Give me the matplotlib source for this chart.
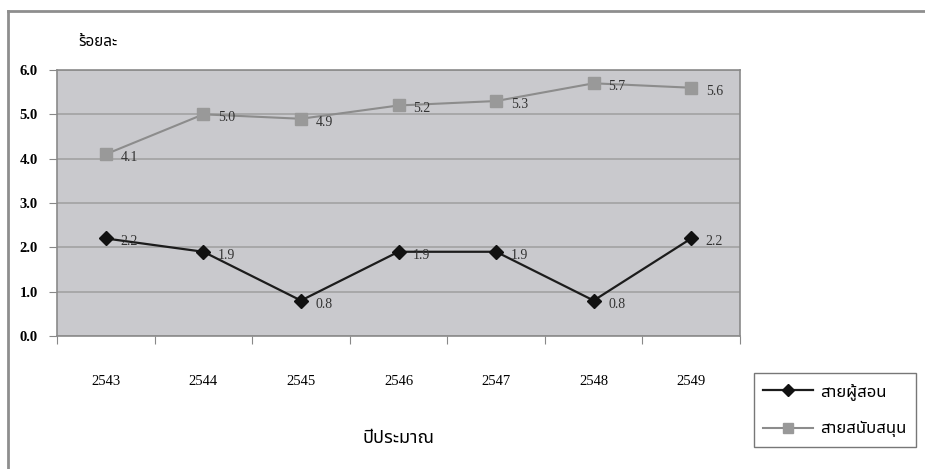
import matplotlib
matplotlib.use('Agg')
import matplotlib.pyplot as plt
from matplotlib.lines import Line2D

years = ['2543', '2544', '2545', '2546', '2547', '2548', '2549']
teaching = [2.2, 1.9, 0.8, 1.9, 1.9, 0.8, 2.2]
support = [4.1, 5.0, 4.9, 5.2, 5.3, 5.7, 5.6]
yticks = [0.0, 1.0, 2.0, 3.0, 4.0, 5.0, 6.0]

series_names = ['สายผู้สอน', 'สายสนับสนุน']
ylabel = 'ร้อยละ'
xlabel = 'ปีประมาณ'

thai = ['Noto Sans Thai', 'Noto Serif Thai', 'Noto Sans Thai Looped', 'Loma',
        'Garuda', 'Norasi', 'Tlwg Typo', 'DejaVu Sans']
serif = ['Liberation Serif', 'DejaVu Serif']

fig = plt.figure(figsize=(9.25, 4.69), dpi=100)
ax = fig.add_axes([57 / 925, 1 - 336 / 469, 683 / 925, 266 / 469])

ax.set_facecolor('#c9c9cd')
x = range(len(years))

ax.plot(x, support, color='#8c8c8c', lw=1.5, marker='s', ms=8.5,
        mfc='#999999', mec='#999999', zorder=3)
ax.plot(x, teaching, color='#1c1c1c', lw=1.6, marker='D', ms=7.5,
        mfc='#111111', mec='#111111', zorder=3)

for i in x:
    ax.annotate(f'{support[i]:.1f}', (i, support[i]), xytext=(10.5, -2.5),
                textcoords='offset points', fontsize=10, color='#333333',
                family=serif, va='center')
    ax.annotate(f'{teaching[i]:.1f}', (i, teaching[i]), xytext=(10.5, -2.5),
                textcoords='offset points', fontsize=10, color='#333333',
                family=serif, va='center')

ax.set_xlim(-0.5, len(years) - 0.5)
ax.set_ylim(0, 6)
ax.set_yticks(yticks)
ax.set_yticklabels([f'{v:.1f}' for v in yticks], family=serif,
                   fontweight='bold', fontsize=10.5)
ax.yaxis.grid(True, color='#a2a2a2', lw=1.2)
ax.set_axisbelow(True)

# category ticks sit between the years, labels sit under each year
ax.set_xticks([i - 0.5 for i in range(len(years) + 1)])
ax.set_xticklabels([])
ax.set_xticks(list(x), minor=True)
ax.set_xticklabels(years, minor=True, family=serif, fontsize=10.5)
ax.tick_params(axis='x', which='minor', length=0, pad=28)
ax.tick_params(axis='x', which='major', length=6, color='#888888',
               direction='out')
ax.tick_params(axis='y', length=6, color='#888888', pad=8)

for s in ax.spines.values():
    s.set_color('#8a8a8a')
    s.set_linewidth(1.2)

fig.text(78 / 925, 1 - 42 / 469, ylabel, family=thai, fontsize=11,
         fontweight='bold', va='center')
fig.text(399 / 925, 1 - 438 / 469, xlabel, family=thai, fontsize=13,
         fontweight='bold', ha='center', va='center')

handles = [
    Line2D([], [], color='#1c1c1c', lw=1.6, marker='D', ms=6.5,
           mfc='#111111', mec='#111111'),
    Line2D([], [], color='#8c8c8c', lw=1.5, marker='s', ms=7,
           mfc='#999999', mec='#999999'),
]
leg = fig.legend(handles, series_names, loc='center',
                 bbox_to_anchor=(835 / 925, 1 - 410 / 469),
                 prop={'family': thai, 'size': 12}, frameon=True,
                 fancybox=False, edgecolor='#555555', handlelength=3.0,
                 handletextpad=0.4, labelspacing=1.3, borderpad=0.55,
                 borderaxespad=0)
leg.get_frame().set_linewidth(1.0)

# outer frame: only top and left edges show
fig.add_artist(Line2D([8 / 925, 1], [1 - 11 / 469] * 2, color='#8e8e8e',
                      lw=2, transform=fig.transFigure))
fig.add_artist(Line2D([8 / 925] * 2, [0, 1 - 11 / 469], color='#8e8e8e',
                      lw=2, transform=fig.transFigure))

fig.savefig('out.png', dpi=100)
